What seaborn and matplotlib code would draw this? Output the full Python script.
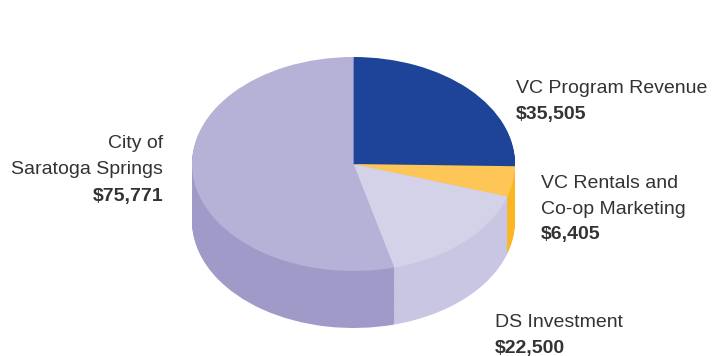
import matplotlib
matplotlib.use("Agg")
import matplotlib.pyplot as plt
import seaborn as sns

sns.set_style("white")
plt.rcParams['font.family'] = ['Liberation Sans', 'DejaVu Sans']

# data, clockwise from 12 o'clock
names = ['VC Program Revenue', 'VC Rentals and\nCo-op Marketing', 'DS Investment', 'City of\nSaratoga Springs']
amounts = [35505, 6405, 22500, 75771]
top_colors = ['#1d4498', '#fdc656', '#d4d2e9', '#b6b1d7']
side_colors = ['#163a85', '#fbb623', '#c8c6e3', '#a09ac8']

W, H = 712, 356
cx, cy = 353.5, 164      # centre of top face (pixels from top-left)
rx, ry = 161.5, 107      # radii of top face
depth = 57               # pixel thickness of the pie

fig = plt.figure(figsize=(W / 100, H / 100), dpi=100)
ax = fig.add_axes([0, 0, 1, 1])

# side: stacked copies of the pie, deepest first
n_layers = 60
for i in range(n_layers, 0, -1):
    off = depth / ry * i / n_layers
    ax.pie(amounts, colors=side_colors, startangle=90, counterclock=False,
           radius=1, center=(0, -off), wedgeprops=dict(linewidth=0, antialiased=True))

# top face
ax.pie(amounts, colors=top_colors, startangle=90, counterclock=False,
       radius=1, center=(0, 0), wedgeprops=dict(linewidth=0))

ax.set_aspect('auto')
ax.set_xlim(-cx / rx, (W - cx) / rx)
ax.set_ylim(-(H - cy) / ry, cy / ry)
ax.axis('off')


def label(x, y, lines, value, ha='left', step=26):
    for k, line in enumerate(lines):
        fig.text(x / W, 1 - (y + k * step) / H, line, ha=ha, va='baseline',
                 fontsize=14, color='#333333')
    fig.text(x / W, 1 - (y + len(lines) * step) / H, '$' + format(value, ','),
             ha=ha, va='baseline', fontsize=14, fontweight='bold', color='#333333')


label(516, 93, names[0].split('\n'), amounts[0])
label(541, 188, names[1].split('\n'), amounts[1], step=25.5)
label(495, 327, names[2].split('\n'), amounts[2])
label(163, 148, names[3].split('\n'), amounts[3], ha='right', step=26.5)

fig.savefig('out.png', dpi=100)
